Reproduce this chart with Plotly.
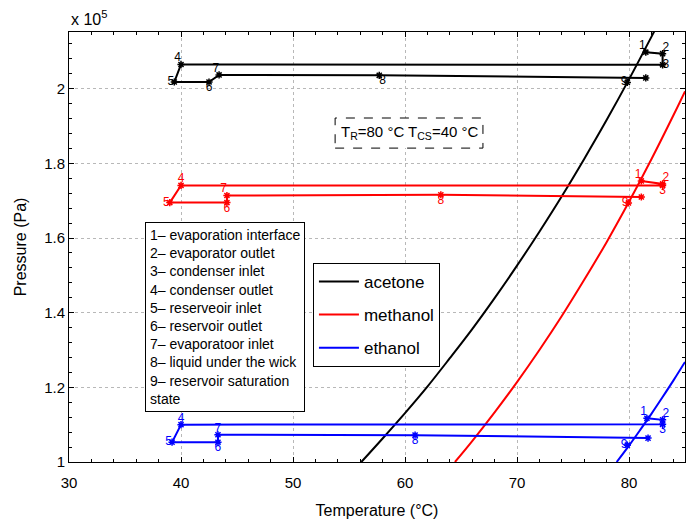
import plotly.graph_objects as go

# Saturation curves (temperature in degC, pressure in 1e5 Pa)
acetone_sat_T = [56.1, 58.0, 60.0, 62.0, 64.0, 66.0, 68.0, 70.0, 72.0, 74.0, 76.0, 78.0, 80.0, 82.0, 82.5]
acetone_sat_P = [1.000, 1.063, 1.131, 1.202, 1.278, 1.356, 1.439, 1.526, 1.617, 1.712, 1.812, 1.916, 2.025, 2.139, 2.168]
methanol_sat_T = [64.46, 66.0, 68.0, 70.0, 72.0, 74.0, 76.0, 78.0, 80.0, 82.0, 84.0, 85.0]
methanol_sat_P = [1.000, 1.056, 1.133, 1.214, 1.300, 1.391, 1.488, 1.589, 1.697, 1.811, 1.931, 1.993]
ethanol_sat_T = [78.9, 80.0, 81.0, 82.0, 83.0, 84.0, 85.0]
ethanol_sat_P = [1.000, 1.044, 1.086, 1.129, 1.174, 1.220, 1.268]

# Loop cycles: states 1..8, then end of liquid line
state_labels = ["1", "2", "3", "4", "5", "6", "7", "8"]
acetone_cyc_T = [81.5, 83.0, 83.0, 40.0, 39.4, 42.5, 43.4, 57.7, 81.5]
acetone_cyc_P = [2.098, 2.094, 2.064, 2.065, 2.018, 2.018, 2.037, 2.036, 2.029]
methanol_cyc_T = [81.1, 83.0, 83.0, 40.0, 39.0, 44.1, 44.1, 63.2, 81.1]
methanol_cyc_P = [1.753, 1.745, 1.741, 1.741, 1.695, 1.695, 1.714, 1.716, 1.710]
ethanol_cyc_T = [81.6, 83.0, 83.0, 40.0, 39.2, 43.3, 43.3, 60.9, 81.7]
ethanol_cyc_P = [1.117, 1.113, 1.101, 1.100, 1.053, 1.053, 1.073, 1.072, 1.064]
# State 9: reservoir saturation state
state9_T = {"acetone": 79.85, "methanol": 79.95, "ethanol": 79.85}
state9_P = {"acetone": 2.017, "methanol": 1.694, "ethanol": 1.045}

x_ticks = [30, 40, 50, 60, 70, 80]
y_ticks = [1.0, 1.2, 1.4, 1.6, 1.8, 2.0]
y_tick_text = ["1", "1.2", "1.4", "1.6", "1.8", "2"]

legend_text = ["1\u2013 evaporation interface", "2\u2013 evaporator outlet", "3\u2013 condenser inlet",
               "4\u2013 condenser outlet", "5\u2013 reserveoir inlet", "6\u2013 reservoir outlet",
               "7\u2013 evaporatoor inlet", "8\u2013 liquid under the wick", "9\u2013 reservoir saturation",
               "state"]

FONT = "Liberation Sans, Arial, sans-serif"
colors = {"acetone": "#000000", "methanol": "#ff0000", "ethanol": "#0000ff"}

fig = go.Figure()

sat = {"acetone": (acetone_sat_T, acetone_sat_P),
       "methanol": (methanol_sat_T, methanol_sat_P),
       "ethanol": (ethanol_sat_T, ethanol_sat_P)}
cyc = {"acetone": (acetone_cyc_T, acetone_cyc_P),
       "methanol": (methanol_cyc_T, methanol_cyc_P),
       "ethanol": (ethanol_cyc_T, ethanol_cyc_P)}

pos = {
    "acetone": ["top left", "top right", "middle right", "top left", "middle left",
                "bottom center", "top left", "bottom right", "middle left"],
    "methanol": ["top left", "top right", "bottom center", "top center", "middle left",
                 "bottom center", "top left", "bottom center", "middle left"],
    "ethanol": ["top left", "top right", "bottom center", "top center", "middle left",
                "bottom center", "top center", "bottom center", "middle left"],
}

for name in ["acetone", "methanol", "ethanol"]:
    c = colors[name]
    T, P = sat[name]
    fig.add_trace(go.Scatter(x=T, y=P, mode="lines", name=name, legendgroup=name,
                             line=dict(color=c, width=2, shape="spline")))
    T, P = cyc[name]
    fig.add_trace(go.Scatter(x=T, y=P, mode="lines+markers", showlegend=False,
                             line=dict(color=c, width=2),
                             marker=dict(symbol="asterisk-open", size=6, color=c,
                                         line=dict(color=c, width=1.5))))
    fig.add_trace(go.Scatter(x=[state9_T[name]], y=[state9_P[name]], mode="markers",
                             showlegend=False,
                             marker=dict(symbol="asterisk-open", size=6, color=c,
                                         line=dict(color=c, width=1.5))))
    lab_T = T[:8] + [state9_T[name]]
    lab_P = P[:8] + [state9_P[name]]
    lab = state_labels + ["9"]
    fig.add_trace(go.Scatter(x=lab_T, y=lab_P, mode="text", text=lab, showlegend=False,
                             textposition=pos[name],
                             textfont=dict(color=c, size=12, family=FONT)))

axis_common = dict(showline=True, linecolor="black", linewidth=1, mirror="ticks",
                   ticks="inside", ticklen=5, tickcolor="black",
                   showgrid=True, gridcolor="#b8b8b8", griddash="dot", gridwidth=1,
                   zeroline=False, tickfont=dict(size=15, family=FONT, color="black"))

fig.update_xaxes(range=[30, 85], tickvals=x_ticks, ticklabelstandoff=7,
                 minor=dict(dtick=2, ticks="inside", ticklen=3, tickcolor="black", showgrid=False),
                 title=dict(text="Temperature (\u00b0C)", font=dict(size=16, family=FONT, color="black"),
                            standoff=14),
                 **axis_common)
fig.update_yaxes(range=[1.0, 2.152], tickvals=y_ticks, ticktext=y_tick_text,
                 minor=dict(dtick=0.04, tick0=1.0, ticks="inside", ticklen=3, tickcolor="black",
                            showgrid=False),
                 title=dict(text="Pressure (Pa)", font=dict(size=16, family=FONT, color="black"),
                            standoff=13),
                 **axis_common)

# exponent label
fig.add_annotation(x=0, y=1, xref="paper", yref="paper", xanchor="left", yanchor="bottom",
                   text="x 10<sup>5</sup>", showarrow=False, yshift=2,
                   font=dict(size=16, family=FONT, color="black"))

# state descriptions box
fig.add_annotation(x=0.123, y=0.558, xref="paper", yref="paper", xanchor="left", yanchor="top",
                   text="<br>".join(legend_text), align="left", showarrow=False,
                   bordercolor="black", borderwidth=1, borderpad=4, bgcolor="white",
                   font=dict(size=14, family=FONT, color="black"))

# conditions box (dashed)
fig.add_shape(type="rect", xref="paper", yref="paper", x0=0.432, x1=0.672, y0=0.730, y1=0.800,
              line=dict(color="black", width=1, dash="dash"), fillcolor="white", layer="above")
fig.add_annotation(x=0.552, y=0.766, xref="paper", yref="paper", xanchor="center", yanchor="middle",
                   text="T<sub>R</sub>=80 \u00b0C T<sub>CS</sub>=40 \u00b0C", showarrow=False,
                   font=dict(size=15, family=FONT, color="black"))

fig.update_layout(
    width=694, height=525,
    margin=dict(l=69, r=9, t=32, b=63),
    plot_bgcolor="white", paper_bgcolor="white",
    font=dict(family=FONT, color="black"),
    legend=dict(x=0.396, y=0.463, xanchor="left", yanchor="top",
                bordercolor="black", borderwidth=1, bgcolor="white",
                font=dict(size=17, family=FONT, color="black"),
                tracegroupgap=8, entrywidth=115, itemwidth=40),
)

fig.write_html("out.html")
